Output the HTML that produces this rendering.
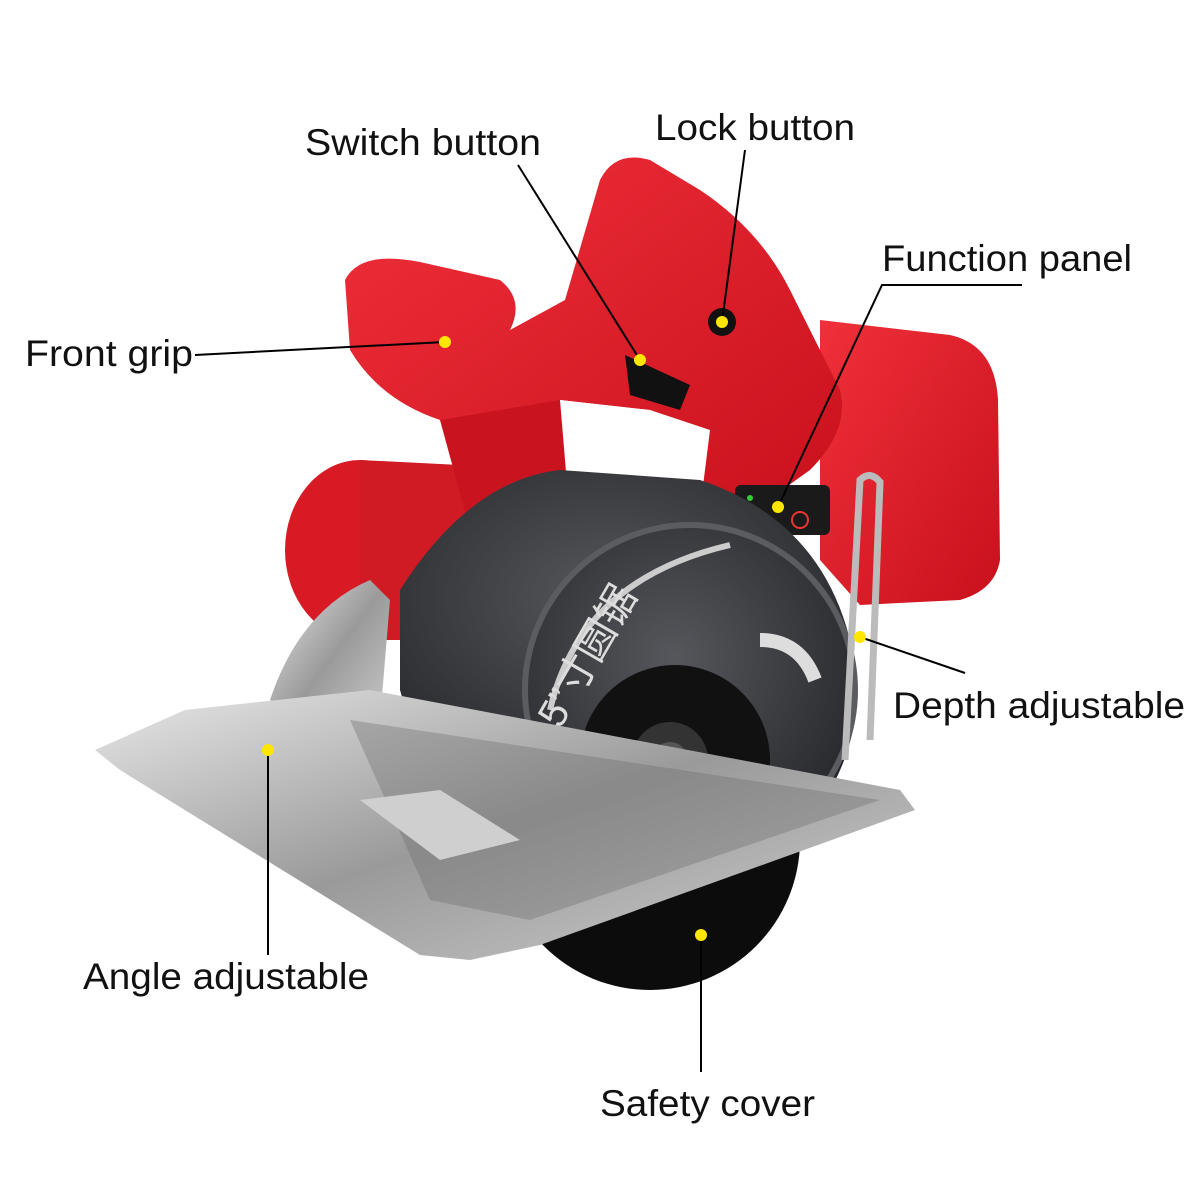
<!DOCTYPE html>
<html><head><meta charset="utf-8"><style>
html,body{margin:0;padding:0;background:#fff;}
svg{display:block}
text{font-family:"Liberation Sans","Noto Sans CJK SC",sans-serif;font-size:37px;fill:#111}
</style></head><body>
<svg width="1200" height="1200" viewBox="0 0 1200 1200" xmlns="http://www.w3.org/2000/svg">
<defs>
<linearGradient id="red" x1="0" y1="0" x2="1" y2="1"><stop offset="0" stop-color="#f0303a"/><stop offset="1" stop-color="#c8101c"/></linearGradient>
<linearGradient id="steel" x1="0" y1="0" x2="1" y2="1"><stop offset="0" stop-color="#e8e8e8"/><stop offset="0.5" stop-color="#9a9a9a"/><stop offset="1" stop-color="#d0d0d0"/></linearGradient>
<radialGradient id="guard" cx="0.45" cy="0.4" r="0.7"><stop offset="0" stop-color="#55575c"/><stop offset="1" stop-color="#222326"/></radialGradient>
</defs>
<!-- battery -->
<path d="M820 320 L950 335 Q995 345 998 400 L1000 560 Q995 590 960 600 L860 605 L820 560 Z" fill="url(#red)"/>
<!-- motor -->
<ellipse cx="360" cy="550" rx="75" ry="90" fill="#d81a25"/>
<path d="M360 460 L560 470 L560 640 L360 640 Z" fill="#d01a24"/>
<!-- handle -->
<path d="M345 280 Q360 250 420 262 L500 280 Q525 300 510 330 L565 300 L600 180 Q615 150 650 160 L700 190 Q760 230 790 290 L840 390 Q850 430 810 470 L740 520 L700 510 L710 430 L650 410 L560 400 L540 470 L470 480 L440 420 Q380 400 350 350 Z" fill="url(#red)"/>
<path d="M440 420 L560 400 L570 520 L470 530 Z" fill="#c91420"/>
<path d="M560 400 L650 410 L700 430 L690 470 L580 470 Z" fill="#fff"/>
<!-- switch -->
<path d="M625 355 L690 385 L680 410 L630 395 Z" fill="#111"/>
<circle cx="722" cy="322" r="14" fill="#111"/>
<!-- function panel -->
<rect x="735" y="485" width="95" height="50" rx="6" fill="#1a1a1a"/>
<circle cx="750" cy="498" r="3" fill="#3c3"/><circle cx="750" cy="508" r="3" fill="#fc0"/><circle cx="750" cy="518" r="3" fill="#f33"/>
<circle cx="800" cy="520" r="8" fill="none" stroke="#e33" stroke-width="2"/>
<!-- blade bottom -->
<circle cx="650" cy="840" r="150" fill="#0c0c0c"/>
<!-- guard -->
<path d="M400 590 Q470 480 560 470 L700 480 Q820 520 850 640 Q870 720 830 790 L640 790 L420 760 L400 690 Z" fill="url(#guard)"/>
<circle cx="690" cy="690" r="165" fill="url(#guard)"/>
<circle cx="690" cy="690" r="165" fill="none" stroke="#5a5c60" stroke-width="6"/>
<circle cx="675" cy="760" r="95" fill="#111"/>
<circle cx="670" cy="760" r="38" fill="#333"/>
<circle cx="670" cy="760" r="18" fill="#555"/>
<path d="M550 710 Q580 580 730 545" stroke="#ccc" stroke-width="6" fill="none"/>
<path d="M760 640 Q800 640 815 680" stroke="#ddd" stroke-width="14" fill="none"/>
<text x="560" y="730" transform="rotate(-60 560 730)" style="fill:#ddd;font-size:40px">5”寸圆锯</text>
<!-- depth rod -->
<path d="M845 760 L860 480 Q870 470 880 482 L870 740" stroke="#bbb" stroke-width="7" fill="none"/>
<!-- angle bracket -->
<path d="M270 700 Q300 610 370 580 L390 600 L380 720 L330 740 Z" fill="url(#steel)"/>
<!-- base plate -->
<path d="M95 750 L185 710 L370 690 L900 790 L915 810 L540 945 L470 960 L420 955 L120 770 Z" fill="url(#steel)"/>
<path d="M350 720 L880 800 L530 920 L430 900 Z" fill="#6a6a6a" opacity="0.35"/>
<path d="M360 800 L440 790 L520 840 L440 860 Z" fill="#cfcfcf"/>
<!-- leader lines -->
<g stroke="#000" stroke-width="2" fill="none">
<line x1="518" y1="165" x2="640" y2="360"/>
<line x1="745" y1="150" x2="722" y2="322"/>
<polyline points="1022,285 882,285 778,507"/>
<line x1="195" y1="355" x2="445" y2="342"/>
<line x1="965" y1="673" x2="860" y2="637"/>
<line x1="268" y1="750" x2="268" y2="955"/>
<line x1="701" y1="935" x2="701" y2="1072"/>
</g>
<g fill="#ffe600">
<circle cx="640" cy="360" r="6"/><circle cx="722" cy="322" r="6"/><circle cx="778" cy="507" r="6"/>
<circle cx="445" cy="342" r="6"/><circle cx="860" cy="637" r="6"/><circle cx="268" cy="750" r="6"/>
<circle cx="701" cy="935" r="6"/>
</g>
<text x="305" y="155" textLength="236" lengthAdjust="spacingAndGlyphs">Switch button</text>
<text x="655" y="140" textLength="200" lengthAdjust="spacingAndGlyphs">Lock button</text>
<text x="882" y="271" textLength="250" lengthAdjust="spacingAndGlyphs">Function panel</text>
<text x="25" y="366" textLength="168" lengthAdjust="spacingAndGlyphs">Front grip</text>
<text x="893" y="718" textLength="292" lengthAdjust="spacingAndGlyphs">Depth adjustable</text>
<text x="83" y="989" textLength="286" lengthAdjust="spacingAndGlyphs">Angle adjustable</text>
<text x="600" y="1116" textLength="215" lengthAdjust="spacingAndGlyphs">Safety cover</text>
</svg>
</body></html>
